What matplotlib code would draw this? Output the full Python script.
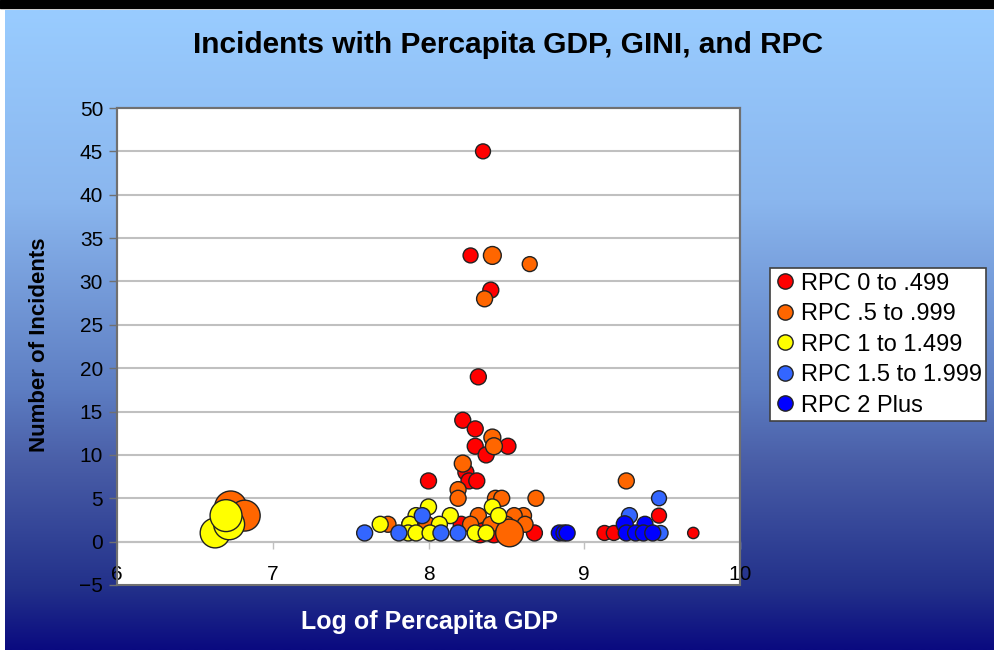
import numpy as np
import matplotlib
matplotlib.use('Agg')
import matplotlib.pyplot as plt
from matplotlib.patches import Rectangle
from matplotlib.lines import Line2D

plt.rcParams['font.family'] = ['Liberation Sans', 'DejaVu Sans']

# ---- data ----
red_x = [8.35, 8.27, 8.40, 8.32, 8.22, 8.30, 8.30, 8.51, 8.37, 8.24, 8.26, 8.31,
         8.00, 8.21, 8.33, 8.42, 8.68, 9.13, 9.19, 9.48, 9.70]
red_y = [45, 33, 29, 19, 14, 13, 11, 11, 10, 8, 7, 7, 7, 2, 1, 1, 1, 1, 1, 3, 1]
red_b = [35, 35, 40, 40, 40, 40, 40, 40, 40, 40, 40, 40, 40, 40, 60, 60, 40, 35, 35, 35, 20]

orange_x = [8.41, 8.65, 8.36, 8.41, 8.42, 8.22, 8.19, 8.19, 8.43, 8.47, 8.69, 9.27,
            8.32, 8.61, 8.55, 7.74, 7.88, 7.93, 7.99, 8.27, 8.40, 8.50, 8.62, 8.52,
            6.73, 6.82]
orange_y = [33, 32, 28, 12, 11, 9, 6, 5, 5, 5, 5, 7, 3, 3, 3, 2, 2, 2, 2, 2, 2, 2, 2, 1, 4, 3]
orange_b = [50, 35, 40, 45, 45, 45, 40, 40, 40, 40, 40, 40, 40, 40, 40, 40, 40, 40,
            40, 40, 40, 40, 40, 120, 160, 150]

yellow_x = [6.63, 6.72, 6.70, 7.69, 7.92, 8.00, 8.14, 8.41, 8.45, 8.07, 7.88,
            7.87, 7.92, 8.01, 8.30, 8.37]
yellow_y = [1, 2, 3, 2, 3, 4, 3, 4, 3, 2, 2, 1, 1, 1, 1, 1]
yellow_b = [140, 150, 160, 40, 40, 40, 40, 40, 40, 40, 40, 40, 40, 40, 40, 40]

lblue_x = [7.59, 7.81, 7.96, 8.08, 8.19, 9.29, 9.48, 9.49]
lblue_y = [1, 1, 3, 1, 1, 3, 5, 1]
lblue_b = [40, 40, 40, 40, 40, 40, 35, 35]

dblue_x = [8.84, 8.87, 8.89, 9.26, 9.39, 9.27, 9.33, 9.38, 9.44]
dblue_y = [1, 1, 1, 2, 2, 1, 1, 1, 1]
dblue_b = [40, 40, 40, 45, 40, 40, 40, 40, 40]

series = [
    ('RPC 0 to .499', '#ff0000', red_x, red_y, red_b),
    ('RPC .5 to .999', '#ff6600', orange_x, orange_y, orange_b),
    ('RPC 1 to 1.499', '#ffff00', yellow_x, yellow_y, yellow_b),
    ('RPC 1.5 to 1.999', '#3366ff', lblue_x, lblue_y, lblue_b),
    ('RPC 2 Plus', '#0000ff', dblue_x, dblue_y, dblue_b),
]

W, H = 995, 654
fig = plt.figure(figsize=(W / 100, H / 100), dpi=100)
fig.patch.set_facecolor('white')

# background gradient (light blue -> navy)
bg = fig.add_axes([0, 0, 1, 1], zorder=0)
bg.set_xlim(0, W)
bg.set_ylim(H, 0)
bg.axis('off')
stops_y = [10, 200, 390, 460, 590, 650]
stops_c = np.array([[153, 204, 255], [138, 182, 238], [93, 125, 194],
                    [74, 95, 168], [34, 48, 138], [10, 10, 128]]) / 255.0
ys = np.linspace(10, 650, 400)
grad = np.stack([np.interp(ys, stops_y, stops_c[:, k]) for k in range(3)], axis=-1)
bg.imshow(grad[:, None, :], extent=(5, W, 650, 10), aspect='auto', interpolation='bilinear')
bg.add_patch(Rectangle((0, 0), W, 8, color='black'))

ax = fig.add_axes([117 / W, 1 - 585 / H, (740 - 117) / W, (585 - 108) / H], zorder=1)
ax.set_facecolor('white')

for label, color, xs, yv, bv in series:
    ax.scatter(xs, yv, s=np.array(bv) * 3.3, color=color, edgecolors='#222222',
               linewidths=1.0, zorder=3, label=label)

ax.set_xlim(6, 10)
ax.set_ylim(-5, 50)
ax.set_yticks(range(-5, 51, 5))
ax.set_xticks([6, 7, 8, 9, 10])
for y in range(0, 50, 5):
    ax.axhline(y, color='#c0c0c0', linewidth=1.5, zorder=1)

for s in ['left', 'right', 'top']:
    ax.spines[s].set_color('#707070')
    ax.spines[s].set_linewidth(1.5)
ax.spines['bottom'].set_position(('data', 0))
ax.spines['bottom'].set_color('#c0c0c0')
ax.spines['bottom'].set_linewidth(1.5)
ax.add_patch(Rectangle((0, 0), 1, 1, transform=ax.transAxes, fill=False,
                       edgecolor='#707070', linewidth=1.5, clip_on=False, zorder=4))

ax.tick_params(axis='y', direction='out', length=6, width=1, color='#707070',
               labelsize=15, pad=4)
ax.tick_params(axis='x', direction='out', length=5, width=1, color='#c0c0c0',
               labelsize=15, pad=12)

fig.text(508 / W, 1 - 45 / H, 'Incidents with Percapita GDP, GINI, and RPC',
         ha='center', va='center', fontsize=21.5, fontweight='bold', color='black')
fig.text(40 / W, 1 - 345 / H, 'Number of Incidents', rotation=90,
         ha='center', va='center', fontsize=16, fontweight='bold', color='black')
fig.text(430 / W, 1 - 622 / H, 'Log of Percapita GDP',
         ha='center', va='center', fontsize=18, fontweight='bold', color='white')

handles = [Line2D([0], [0], marker='o', linestyle='none', markersize=11,
                  markerfacecolor=c, markeredgecolor='#222222', label=l)
           for l, c, *_ in series]
leg = fig.legend(handles=handles, loc='upper left', bbox_to_anchor=(770 / W, 1 - 268 / H),
                 fontsize=17, frameon=True, fancybox=False, edgecolor='#404040',
                 framealpha=1, handletextpad=0.2, labelspacing=0.36, borderpad=0.2,
                 handlelength=0.9, borderaxespad=0)
leg.get_frame().set_linewidth(1.2)

fig.savefig('out.png', dpi=100)
